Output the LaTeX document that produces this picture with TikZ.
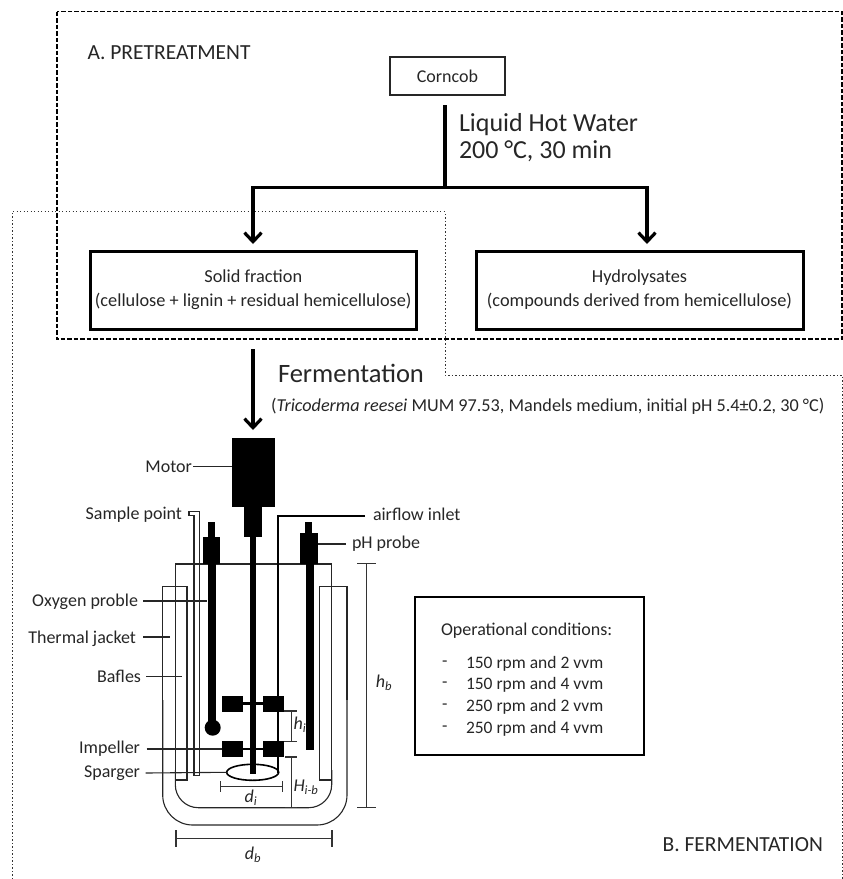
\documentclass[tikz,border=0pt]{standalone}
\usepackage{fontspec}
\setmainfont{Carlito}
\usetikzlibrary{arrows.meta,shapes.geometric}
\tikzset{
  every node/.style={inner sep=0pt,outer sep=0pt,text=black!85},
  lab/.style={font=\fontsize{18}{20}\selectfont},
  oplab/.style={anchor=west,font=\fontsize{17.5}{20}\selectfont},
  box/.style={draw=black,line width=3pt,align=center,font=\fontsize{18.3}{24}\selectfont},
  flow/.style={line width=3.2pt,-{Straight Barb[length=9pt,width=17pt,line width=3.2pt]}},
  thin line/.style={draw=black!85,line width=1.1pt},
  blk/.style={fill=black,draw=none},
  dim/.style={draw=black!80,line width=1.2pt},
  dimlab/.style={font=\fontsize{18}{20}\selectfont\itshape},
}
\begin{document}
\begin{tikzpicture}[x=1pt,y=-1pt]
\useasboundingbox (0,0) rectangle (843,879);
% frames
\draw[black!80,line width=1pt,dash pattern=on 1.2pt off 2.3pt] (12,879) -- (12,211.7) -- (445,211.7) -- (445,375) -- (842,375) -- (842,879);
\draw[black,line width=1.6pt,dash pattern=on 4.5pt off 2pt] (56.7,11.5) rectangle (842,339);
\node[anchor=west,font=\fontsize{21.5}{24}\selectfont] (ta) at (87.5,53) {A. PRETREATMENT};
\node[anchor=east,font=\fontsize{21.5}{24}\selectfont] (tb) at (823,845) {B. FERMENTATION};
% pretreatment
\node[draw=black!85,line width=1.1pt,minimum width=115pt,minimum height=38pt,font=\fontsize{18}{20}\selectfont] (corn) at (447.5,76) {Corncob};
\coordinate (split) at (445,187.5);
\coordinate (lhwtop) at (445,105);
\node[box,minimum width=326pt,minimum height=78pt] (solid) at (253.3,290) {Solid fraction\\(cellulose + lignin + residual hemicellulose)};
\node[box,minimum width=327pt,minimum height=78pt] (hydro) at (639.5,290) {Hydrolysates\\(compounds derived from hemicellulose)};
\draw[line width=3.2pt] (lhwtop) -- (split);
\draw[flow] (split) -| (253,244);
\draw[flow] (split) -| (647,244);
\node[anchor=west,align=left,font=\fontsize{26}{27}\selectfont] (lhw) at (459,138) {Liquid Hot Water\\200 °C, 30 min};
\coordinate (fs) at (253,349);
\coordinate (fe) at (253,430);
\draw[flow] (fs) -- (fe);
\node[anchor=west,font=\fontsize{26.5}{28}\selectfont] (ferm) at (278,373.5) {Fermentation};
\node[anchor=west,font=\fontsize{18.2}{20}\selectfont] (cond) at (271,406) {(\textit{Tricoderma reesei} MUM 97.53, Mandels medium, initial pH 5.4±0.2, 30 °C)};
% op box
\node[box,minimum width=229pt,minimum height=158pt,line width=2.8pt] (op) at (529.5,676) {};
\node[anchor=west,font=\fontsize{18}{20}\selectfont] (ophead) at (441,631) {Operational conditions:};
\node[oplab] (o1a) at (442,664) {-};
\node[oplab] (o1) at (466,664) {150 rpm and 2 vvm};
\node[oplab] (o2a) at (442,685) {-};
\node[oplab] (o2) at (466,685) {150 rpm and 4 vvm};
\node[oplab] (o3a) at (442,707) {-};
\node[oplab] (o3) at (466,707) {250 rpm and 2 vvm};
\node[oplab] (o4a) at (442,729) {-};
\node[oplab] (o4) at (466,729) {250 rpm and 4 vvm};
% vessel
\draw[thin line,rounded corners=23pt] (175.3,770) -- (175.3,807.7) -- (331.7,807.7) -- (331.7,770);
\draw[thin line] (175.3,770) -- (175.3,564) -- (331.7,564) -- (331.7,770);
\draw[thin line,rounded corners=30pt] (162.7,700) -- (162.7,825) -- (347,825) -- (347,700);
\draw[thin line] (162.7,700) -- (162.7,586.7) -- (187,586.7) -- (187,780) -- (175.3,780);
\draw[thin line] (347,700) -- (347,586.7) -- (319.7,586.7) -- (319.7,780) -- (331.7,780);
% sample tube
\draw[thin line] (189,515.5) -- (189,511.5) -- (199.3,511.5) -- (199.3,775.7) -- (194,775.7) -- (194,515.5) -- (189,515.5);
% probes
\fill[blk] (207.5,522) rectangle (215,537);
\fill[blk] (202.5,537) rectangle (220,564);
\fill[blk] (207.7,564) rectangle (216,722);
\fill[blk] (212.7,727.7) circle (8);
\fill[blk] (304.7,522) rectangle (312.3,533);
\fill[blk] (300,533) rectangle (318,564);
\fill[blk] (306,564) rectangle (314.3,750);
% motor and shaft
\node[blk,minimum width=43.3pt,minimum height=69pt] (motor) at (253.3,472.5) {};
\fill[blk] (244,507) rectangle (262,537);
\fill[blk] (250,537) rectangle (256,774);
% airflow
\coordinate (air) at (365,516);
\draw[black,line width=2.2pt] (air) -- (277.7,516) -- (277.7,773);
% impellers
\draw[black,line width=2.4pt] (232,703.5) -- (274,703.5);
\draw[black,line width=2.4pt] (232,749) -- (274,749);
\fill[blk] (221.7,696) rectangle (242.7,711.7);
\fill[blk] (263.3,696) rectangle (284,711.7);
\fill[blk] (221.7,741) rectangle (242.7,756.7);
\fill[blk] (263.3,741) rectangle (284,756.7);
\node[draw=black,line width=1.6pt,ellipse,minimum width=52pt,minimum height=16pt] (sparger) at (252.7,772.3) {};
% dimensions
\draw[dim] (220.3,781) -- (220.3,792) (220.3,786.7) -- (282.7,786.7) (282.7,781) -- (282.7,792);
\node[dimlab] (di) at (251,798) {d\textsubscript{i}};
\draw[dim] (284,711) -- (297,711) (291.3,711) -- (291.3,741.7) (284,741.7) -- (297,741.7);
\node[dimlab] (hi) at (300,725) {h\textsubscript{i}};
\draw[dim] (285,757) -- (297,757) (291.3,757) -- (291.3,807.7) (285,807.7) -- (297,807.7);
\node[dimlab] (hib) at (306,787) {H\textsubscript{i-b}};
\draw[dim] (357,563.3) -- (376,563.3) (366.7,563.3) -- (366.7,807.7) (357,807.7) -- (376,807.7);
\node[dimlab] (hb) at (384,683) {h\textsubscript{b}};
\draw[dim] (176,830) -- (176,847) (176,838.3) -- (332,838.3) (332,830) -- (332,847);
\node[dimlab] (db) at (253,855) {d\textsubscript{b}};
% labels and leaders
\node[lab,anchor=east] (lm) at (192,467) {Motor};
\draw[thin line] (193.3,466.7) -- (motor.west |- 0,466.7);
\node[lab,anchor=east] (ls) at (182,514.5) {Sample point};
\node[lab,anchor=west] (lair) at (373,514) {airflow inlet};
\node[lab,anchor=west] (lph) at (352,544) {pH probe};
\draw[thin line] (318,544) -- (346,544);
\node[lab,anchor=east] (lo) at (138,601.5) {Oxygen proble};
\draw[thin line] (143,601) -- (207,601);
\node[lab,anchor=east] (lt) at (136,638.5) {Thermal jacket};
\draw[thin line] (143,637) -- (170,637);
\node[lab,anchor=east] (lb) at (141,676.5) {Bafles};
\draw[thin line] (146,676.7) -- (181.7,676.7);
\node[lab,anchor=east] (li) at (140,749) {Impeller};
\draw[thin line] (146.7,749) -- (221.7,749);
\node[lab,anchor=east] (lsp) at (140,773.5) {Sparger};
\draw[thin line] (145.7,773) -- (sparger.west);
\end{tikzpicture}
\end{document}
